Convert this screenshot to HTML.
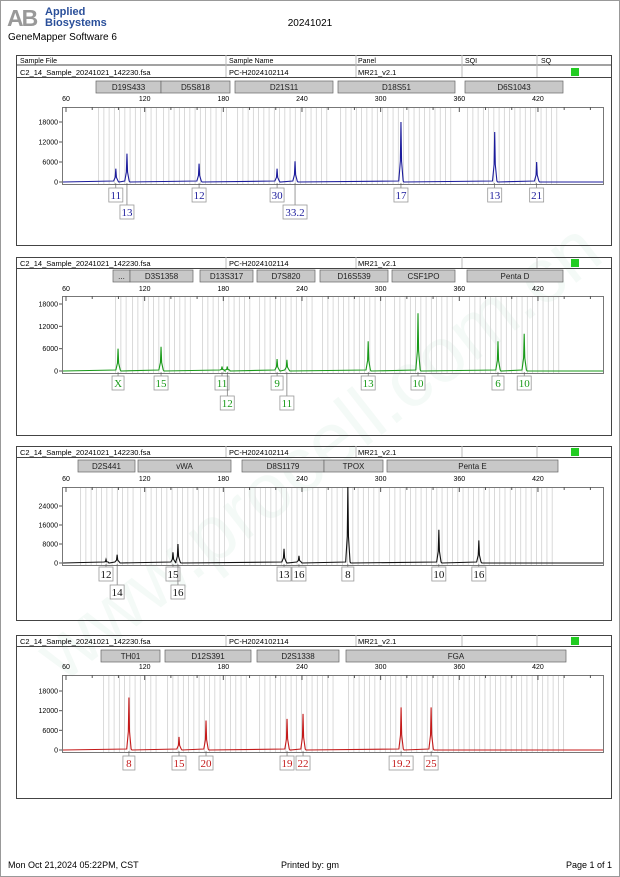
<!DOCTYPE html>
<html><head><meta charset="utf-8"><style>
body{margin:0;background:#fff;}
#page{position:relative;width:620px;height:877px;overflow:hidden;font-family:"Liberation Sans",sans-serif;background:#fff;}
svg text{font-family:"Liberation Sans",sans-serif;}
svg text.serif{font-family:"Liberation Serif",serif;}
</style></head><body>
<div id="page">
<svg id="svg" width="620" height="877" xmlns="http://www.w3.org/2000/svg">
<rect x="0.5" y="0.5" width="619" height="876" fill="none" stroke="#999"/>
<g>
<text x="7" y="26" font-size="23" font-weight="bold" fill="#999" letter-spacing="-2">AB</text>
<text x="45" y="15" font-size="11" font-weight="bold" fill="#2a4f9a">Applied</text>
<text x="45" y="26" font-size="11" font-weight="bold" fill="#2a4f9a">Biosystems</text>
</g>
<text x="8" y="40" font-size="10" fill="#000">GeneMapper Software 6</text>
<text x="310" y="26" font-size="10" text-anchor="middle" fill="#000">20241021</text>
<text x="310" y="480" font-size="78" fill="rgba(0,150,80,0.045)" text-anchor="middle" transform="rotate(-38 310 440)">www.procell.com.cn</text>
<g id="layer"></g>
<text x="8" y="868" font-size="9" fill="#000">Mon Oct 21,2024 05:22PM, CST</text>
<text x="310" y="868" font-size="9" text-anchor="middle" fill="#000">Printed by: gm</text>
<text x="612" y="868" font-size="9" text-anchor="end" fill="#000">Page 1 of 1</text>
</svg>
</div>
<script>
const xTicks=[60,120,180,240,300,360,420];
const p1Loci=[["D19S433",96,161],["D5S818",161,230],["D21S11",235,333],["D18S51",338,455],["D6S1043",465,563]];
const p1Sizes=[98,106.5,161.5,221,234.7,315.5,387,419];
const p1Heights=[4000,8500,5500,4000,6200,18000,15000,6000];
const p1Labels=["11","13","12","30","33.2","17","13","21"];
const p1Rows=[0,1,0,0,1,0,0,0];
const p1YTicks=[0,6000,12000,18000];
const p2Loci=[["...",113,130],["D3S1358",130,193],["D13S317",200,253],["D7S820",257,315],["D16S539",320,388],["CSF1PO",392,455],["Penta D",467,563]];
const p2Sizes=[99.7,132.5,179,183,221,228.5,290.5,328.5,389.5,409.5];
const p2Heights=[6000,6500,1200,1200,3200,3000,8000,15500,8000,10000];
const p2Labels=["X","15","11","12","9","11","13","10","6","10"];
const p2Rows=[0,0,0,1,0,1,0,0,0,0];
const p2YTicks=[0,6000,12000,18000];
const p3Loci=[["D2S441",78,135],["vWA",138,231],["D8S1179",242,324],["TPOX",324,383],["Penta E",387,558]];
const p3Sizes=[90.5,99,141.6,145.4,226.3,237.7,275,344.4,374.9];
const p3Heights=[1500,3500,4500,8000,6000,3000,33000,14000,9500];
const p3Labels=["12","14","15","16","13","16","8","10","16"];
const p3Rows=[0,1,0,1,0,0,0,0,0];
const p3YTicks=[0,8000,16000,24000];
const p4Loci=[["TH01",101,160],["D12S391",165,251],["D2S1338",257,339],["FGA",346,566]];
const p4Sizes=[108,146.2,166.8,228.6,240.8,315.6,338.5];
const p4Heights=[16000,4000,9000,9500,11000,13000,13000];
const p4Labels=["8","15","20","19","22","19.2","25"];
const p4Rows=[0,0,0,0,0,0,0];
const p4YTicks=[0,6000,12000,18000];

const NS="http://www.w3.org/2000/svg";
const layer=document.getElementById('layer');
function mk(tag,attrs,parent,txt){const e=document.createElementNS(NS,tag);for(const k in attrs)e.setAttribute(k,attrs[k]);if(txt!==undefined)e.textContent=txt;(parent||layer).appendChild(e);return e;}
const X=bp=>66+(bp-60)*1.311;

const panels=[
 {n:1,hdr:true,info:66,bar:81,tl:101,top:107,base:182,k:60/18000,r1:188,r2:205,bot:245,col:"#1c1c9c",loci:p1Loci,s:p1Sizes,h:p1Heights,l:p1Labels,r:p1Rows,yt:p1YTicks},
 {n:2,info:257,bar:270,tl:291,top:296,base:371,k:67/18000,r1:376,r2:396,bot:435,col:"#1a9a1a",loci:p2Loci,s:p2Sizes,h:p2Heights,l:p2Labels,r:p2Rows,yt:p2YTicks},
 {n:3,info:446,bar:460,tl:481,top:487,base:563,k:57/24000,r1:567,r2:585,bot:620,col:"#111",loci:p3Loci,s:p3Sizes,h:p3Heights,l:p3Labels,r:p3Rows,yt:p3YTicks},
 {n:4,info:635,bar:650,tl:669,top:675,base:750,k:59/18000,r1:756,r2:774,bot:798,col:"#c41a1a",loci:p4Loci,s:p4Sizes,h:p4Heights,l:p4Labels,r:p4Rows,yt:p4YTicks}
];
panels.forEach(P=>{
 const g=mk('g',{});
 
 
 const boxTop=P.hdr?55:P.info;
 const box=mk('rect',{x:16.5,y:boxTop+0.5,width:595,height:P.bot-boxTop,fill:'none',stroke:'#444'},g);
 
 
 const cols=[[20,"Sample File"],[229,"Sample Name"],[358,"Panel"],[465,"SQI"],[541,"SQ"]];
 if(P.hdr){
  cols.forEach(c=>{const t=mk('text',{x:c[0],y:boxTop+8,'font-size':7,fill:'#000'},g,c[1]);
   
   });
  mk('line',{x1:16,x2:611,y1:P.info-1,y2:P.info-1,stroke:'#444'},g);
 }
 [226,356,462,537].forEach(x=>mk('line',{x1:x,x2:x,y1:boxTop,y2:P.info+11,stroke:'#bbb'},g));
 mk('line',{x1:16,x2:611,y1:P.info+11.5,y2:P.info+11.5,stroke:'#444'},g);
 const info=[[20,"C2_14_Sample_20241021_142230.fsa"],[229,"PC-H2024102114"],[358,"MR21_v2.1"]];
 info.forEach(c=>{const t=mk('text',{x:c[0],y:P.info+9,'font-size':7.5,fill:'#000'},g,c[1]);
  
  });
 const sq=mk('rect',{x:571,y:P.info+2,width:8,height:8,fill:'#22cc22'},g);
 
 
 P.loci.forEach(L=>{
  const a=(L[1]-66)/1.311+60,b=(L[2]-66)/1.311+60;
  for(let bp=a+2;bp<b-1;bp+=4){mk('line',{x1:X(bp),x2:X(bp),y1:P.top,y2:P.base+2,stroke:'#d0d0d0','stroke-width':0.8},g);}
 });
 P.loci.forEach(L=>{
  const r=mk('rect',{x:L[1],y:P.bar,width:L[2]-L[1],height:12,fill:'#c8c8c8',stroke:'#666','stroke-width':0.7},g);
  
  
  mk('text',{x:(L[1]+L[2])/2,y:P.bar+9,'font-size':8,'text-anchor':'middle',fill:'#222'},g,L[0]);
 });
 const pf=mk('rect',{x:62.5,y:P.top+0.5,width:541,height:P.base+2-P.top,fill:'none',stroke:'#777'},g);
 
 
 for(let v=60;v<=460;v+=20){mk('line',{x1:X(v),x2:X(v),y1:P.top,y2:P.top+(v%60?3:5),stroke:'#555'},g);}
 xTicks.forEach(v=>{const t=mk('text',{x:X(v),y:P.tl,'font-size':7,'text-anchor':'middle',fill:'#000'},g,String(v));
  
  });
 P.yt.forEach(v=>{const y=P.base-v*P.k;
  const t=mk('text',{x:58,y:y+2.5,'font-size':7,'text-anchor':'end',fill:'#000'},g,String(v));
  
  
  mk('line',{x1:59,x2:62,y1:y,y2:y,stroke:'#555'},g);});
 let d='M63,'+P.base;
 const pts=[];
 P.s.forEach((s,i)=>{pts.push([X(s),Math.min(P.h[i]*P.k,P.base-P.top)]);});
 pts.sort((a,b)=>a[0]-b[0]);
 pts.forEach(p=>{d+=' L'+(p[0]-2.2)+','+(P.base-1)+' L'+(p[0]-0.6)+','+(P.base-p[1]*0.35)+' L'+p[0]+','+(P.base-p[1])+' L'+(p[0]+0.6)+','+(P.base-p[1]*0.35)+' L'+(p[0]+2.2)+','+(P.base-1)+' L'+(p[0]+3)+','+P.base;});
 d+=' L603,'+P.base;
 const tr=mk('path',{d:d,fill:'none',stroke:P.col,'stroke-width':1.1},g);
 
 
 P.s.forEach((s,i)=>{
  const x=X(s),y=P.r[i]?P.r2:P.r1,lab=P.l[i];
  const w=Math.max(12,lab.length*5+4);
  mk('line',{x1:x,x2:x,y1:P.base+1,y2:y,stroke:'#555','stroke-width':0.6},g);
  const rb=mk('rect',{x:x-w/2,y:y,width:w,height:14,fill:'#fff',stroke:'#999','stroke-width':0.8},g);
  
  
  mk('text',{x:x,y:y+11,'font-size':11,'class':'serif','text-anchor':'middle',fill:P.col},g,lab);
 });
});
</script>
</body></html>
